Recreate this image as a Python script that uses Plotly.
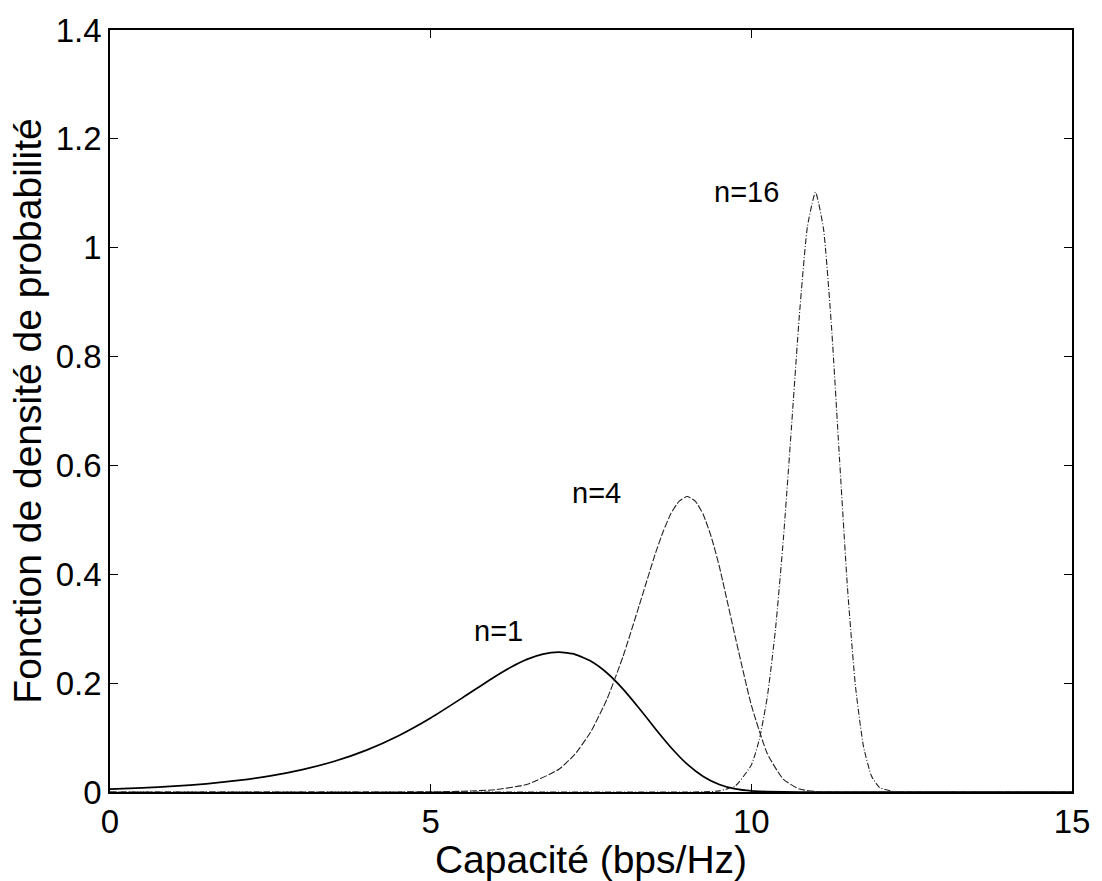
import plotly.graph_objects as go

# n = 1
cap_n1 = [0, 0.5, 1, 1.5, 2, 2.5, 3, 3.5, 4, 4.5, 5, 5.5, 6, 6.25, 6.5, 6.75, 7, 7.25,
          7.5, 7.75, 8, 8.25, 8.5, 8.75, 9, 9.25, 9.5, 9.75, 10, 10.5, 11, 15]
pdf_n1 = [0.0054, 0.0076, 0.0107, 0.0151, 0.0212, 0.0295, 0.0410, 0.0565, 0.0770, 0.1035,
          0.136, 0.1734, 0.2119, 0.2292, 0.2436, 0.2533, 0.2570, 0.2529, 0.2401, 0.2186,
          0.1891, 0.1540, 0.1168, 0.0814, 0.0512, 0.0286, 0.0138, 0.0056, 0.0019, 0.0001, 0, 0]

# n = 4
cap_n4 = [0, 5, 5.5, 6, 6.5, 7, 7.25, 7.5, 7.75, 8, 8.25, 8.5, 8.625, 8.75, 8.875, 9,
          9.125, 9.25, 9.375, 9.5, 9.75, 10, 10.25, 10.5, 10.75, 11, 11.5, 15]
pdf_n4 = [0, 0.0003, 0.0013, 0.0042, 0.0139, 0.0418, 0.0695, 0.1113, 0.1709, 0.2492,
          0.3420, 0.4368, 0.4785, 0.5124, 0.5343, 0.5428, 0.5345, 0.5100, 0.4688, 0.4149,
          0.2846, 0.1597, 0.0702, 0.0232, 0.0055, 0.0009, 0, 0]

# n = 16
cap_n16 = [0, 9, 9.25, 9.5, 9.75, 10, 10.125, 10.25, 10.375, 10.5, 10.625, 10.75, 10.875,
           11, 11.125, 11.25, 11.375, 11.5, 11.625, 11.75, 11.875, 12, 12.25, 12.5, 15]
pdf_n16 = [0, 0, 0.0003, 0.0020, 0.0111, 0.0498, 0.0966, 0.1755, 0.2973, 0.4653, 0.669,
           0.877, 1.039, 1.102, 1.035, 0.855, 0.612, 0.374, 0.193, 0.0828, 0.0290, 0.0082,
           0.0003, 0, 0]

x_ticks = [0, 5, 10, 15]
y_ticks = [0, 0.2, 0.4, 0.6, 0.8, 1, 1.2, 1.4]
y_tick_labels = ["0", "0.2", "0.4", "0.6", "0.8", "1", "1.2", "1.4"]

labels = ["n=1", "n=4", "n=16"]
label_x = [6.05, 7.59, 9.93]
label_y = [0.295, 0.549, 1.103]

FONT = "Liberation Sans, Arial, Helvetica, sans-serif"

fig = go.Figure()
fig.add_trace(go.Scatter(x=cap_n1, y=pdf_n1, mode="lines", name="n=1",
                         line=dict(color="black", width=1.7, shape="spline", smoothing=0.5)))
fig.add_trace(go.Scatter(x=cap_n4, y=pdf_n4, mode="lines", name="n=4",
                         line=dict(color="#222222", width=1.1, dash="7px,2px", shape="spline", smoothing=0.5)))
fig.add_trace(go.Scatter(x=cap_n16, y=pdf_n16, mode="lines", name="n=16",
                         line=dict(color="#222222", width=1.1, dash="6px,2px,1px,2px", shape="spline", smoothing=0.5)))

for t, xx, yy in zip(labels, label_x, label_y):
    fig.add_annotation(x=xx, y=yy, xref="x", yref="y", text=t, showarrow=False,
                       font=dict(family=FONT, size=29, color="black"))

axis_common = dict(showline=True, linecolor="black", linewidth=1.5, mirror="ticks",
                   ticks="inside", ticklen=8, tickwidth=1.2, tickcolor="black",
                   showgrid=False, zeroline=False,
                   tickfont=dict(family=FONT, size=33, color="black"))

fig.update_xaxes(range=[0, 15], tickvals=x_ticks, ticktext=[str(v) for v in x_ticks],
                 title=dict(text="Capacité (bps/Hz)", standoff=0,
                            font=dict(family=FONT, size=39, color="black")),
                 **axis_common)
fig.update_yaxes(range=[0, 1.4], tickvals=y_ticks, ticktext=y_tick_labels,
                 title=dict(text="Fonction de densité de probabilité", standoff=2,
                            font=dict(family=FONT, size=39, color="black")),
                 **axis_common)

fig.update_layout(width=1102, height=881, showlegend=False,
                  plot_bgcolor="white", paper_bgcolor="white",
                  margin=dict(l=110, r=28, t=24, b=89))

fig.write_html("out.html")
